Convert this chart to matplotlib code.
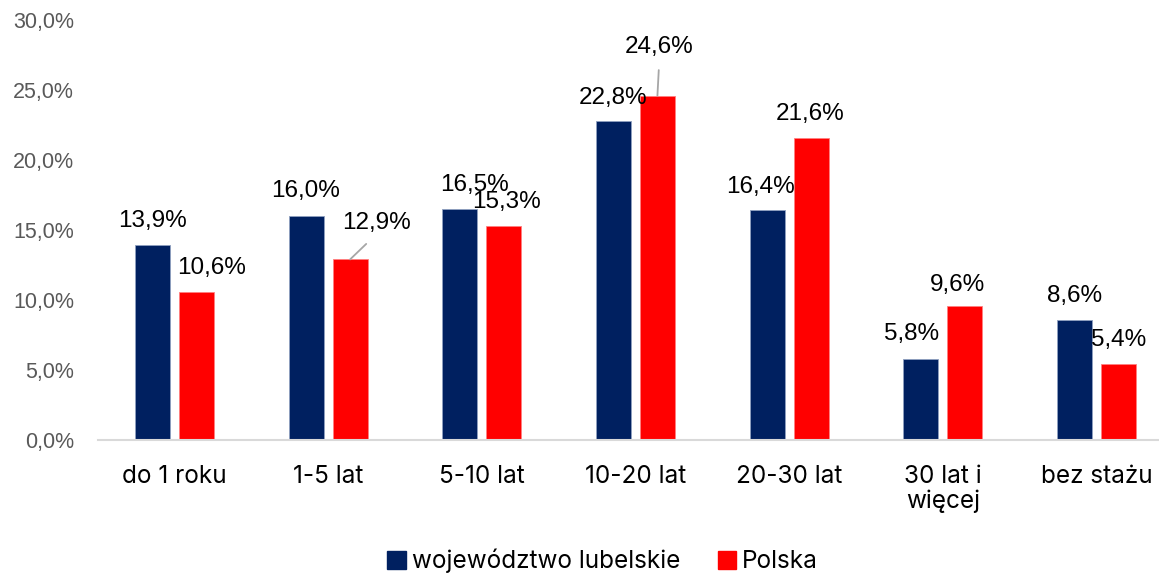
import numpy as np
import matplotlib
matplotlib.use("Agg")
from matplotlib import pyplot as plt
from matplotlib.patches import Patch

categories = ["do 1 roku", "1-5 lat", "5-10 lat", "10-20 lat", "20-30 lat", "30 lat i\nwięcej", "bez stażu"]
lubelskie = [13.9, 16.0, 16.5, 22.8, 16.4, 5.8, 8.6]
polska = [10.6, 12.9, 15.3, 24.6, 21.6, 9.6, 5.4]
series_names = ["województwo lubelskie", "Polska"]
y_ticks = [0, 5, 10, 15, 20, 25, 30]

NAVY = "#002060"
RED = "#FF0000"

# label offsets from bar top (pixels): (dx, dy)
off_lub = [(0, 18), (-1, 19), (15, 18), (0, 17), (-7, 17), (-9, 19), (0, 18)]
off_pl = [(15, 18), (26, 30), (3, 18), (2, 43), (-1, 18), (-7, 15), (0, 18)]
leader_pl = [False, True, False, True, False, False, False]


def fmt(v):
    return f"{v:.1f}%".replace(".", ",")


def main():
    fig = plt.figure(figsize=(11.59, 5.73), dpi=100)
    ax = fig.add_axes([97.65 / 1159, 133 / 573, 1075.6 / 1159, 420 / 573])

    x = np.arange(len(categories))
    w = 0.228
    d = 0.143
    ax.bar(x - d, lubelskie, w, color=NAVY, edgecolor="#8FA0C0", linewidth=0.6)
    ax.bar(x + d, polska, w, color=RED, edgecolor="#FF8080", linewidth=0.6)

    lab_font = dict(family="Liberation Sans", size=17.5, color="black")
    for i, v in enumerate(lubelskie):
        dx, dy = off_lub[i]
        ax.annotate(fmt(v), (x[i] - d, v), xytext=(dx, dy), textcoords="offset pixels",
                    ha="center", va="baseline", **lab_font)
    for i, v in enumerate(polska):
        dx, dy = off_pl[i]
        arrow = None
        if leader_pl[i]:
            arrow = dict(arrowstyle="-", color="#A6A6A6", lw=1.3, shrinkA=7, shrinkB=0,
                         relpos=(0.5, 0.0))
        ax.annotate(fmt(v), (x[i] + d, v), xytext=(dx, dy), textcoords="offset pixels",
                    ha="center", va="baseline", arrowprops=arrow, **lab_font)

    ax.set_xlim(-0.5, len(categories) - 0.5)
    ax.set_ylim(0, 30)
    ax.set_yticks(y_ticks)
    ax.set_yticklabels([fmt(t) for t in y_ticks], family="Liberation Sans", fontsize=15.5, color="#595959")
    ax.set_xticks(x)
    ax.set_xticklabels(categories, family="Inter", fontsize=17.5, color="black", linespacing=1.1)
    ax.tick_params(axis="y", length=0, pad=17)
    ax.tick_params(axis="x", length=0, pad=18)
    for s in ["top", "right", "left"]:
        ax.spines[s].set_visible(False)
    ax.spines["bottom"].set_color("#D9D9D9")
    ax.spines["bottom"].set_linewidth(1.5)

    handles = [Patch(color=NAVY), Patch(color=RED)]
    fig.legend(handles, series_names, loc="center", bbox_to_anchor=(0.52, 1 - 561 / 573),
               ncol=2, frameon=False, prop=dict(family="Inter", size=17.5),
               handlelength=0.75, handleheight=0.75, handletextpad=0.25, columnspacing=1.55)

    fig.savefig("out.png", dpi=100)


if __name__ == '__main__':
    main()
